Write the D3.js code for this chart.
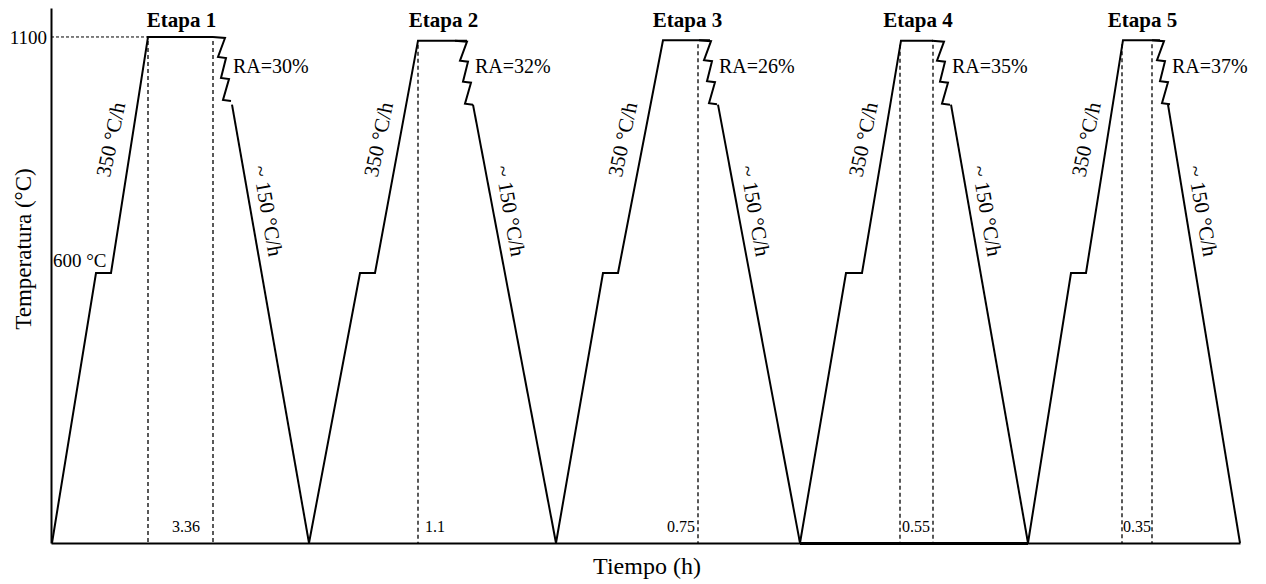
<!DOCTYPE html>
<html><head><meta charset="utf-8">
<script src="https://cdn.jsdelivr.net/npm/d3@7"></script>
<style>
body{margin:0;background:#fff}
svg{display:block}
text{font-family:"Liberation Serif","Times New Roman",serif;fill:#000}
</style>
</head><body><svg id="c" width="1266" height="584"></svg>
<script>
// ---- data (schematic time units, temperature °C) ----
const stages = ['Etapa 1','Etapa 2','Etapa 3','Etapa 4','Etapa 5'];
const reductions = ['RA=30%','RA=32%','RA=26%','RA=35%','RA=37%'];
const durations = ['3.36','1.1','0.75','0.55','0.35'];
const durationPos = [13.5, 37.4, 64.4, 86.5, 108.6];
const durationAnchor = ['middle','start','end','middle','middle'];
const cycleStart = [0.1, 25.8, 50.5, 74.9, 97.7];
const holdStart  = [4.5, 30.9, 55.2, 79.5, 102.0];
const holdEnd    = [6.0, 32.4, 56.7, 81.1, 103.5];
const topStart   = [9.7, 36.7, 61.2, 85.0, 107.2];
const topEnd     = [16.2, 41.6, 65.9, 88.2, 110.9];
const breakAt    = [16.2, 40.4, 64.8, 88.1, 110.1];
const coolStart  = [18.1, 42.2, 66.7, 90.0, 111.7];
const cycleEnd   = [25.8, 50.5, 74.9, 97.7, 118.9];
const topTemp    = [1100, 1092, 1093, 1092, 1093];
const holdTemp = 587;
const coolStartTemp = 953;
const markerTimes = [[9.7,16.2],[36.7],[64.7],[84.9,88.2],[107.1,110.1]];
const yTicks = [1100];
const heatLabel = '350 °C/h';
const coolLabel = '~ 150 °C/h';
const holdLabel = '600 °C';

// ---- chart ----
const svg = d3.select('#c');
const x = d3.scaleLinear().domain([0, 118.9]).range([51, 1240]);
const y = d3.scaleLinear().domain([0, 1163]).range([543, 8]);

// zig-zag "break" symbol template (pixel offsets)
const zig = [[0,0],[12,1],[5,20],[13,21],[8,41],[16,42],[10,63],[18,64]];

// dotted 1100 reference
svg.append('line')
  .attr('x1', x(0)).attr('x2', x(topStart[0]))
  .attr('y1', y(1100)).attr('y2', y(1100))
  .attr('stroke', '#000').attr('stroke-width', 1).attr('stroke-dasharray', '3,2');

// dashed vertical markers
markerTimes.forEach((ts, i) => {
  ts.forEach(t => {
    svg.append('line')
      .attr('x1', x(t)).attr('x2', x(t))
      .attr('y1', y(topTemp[i]) + 4).attr('y2', y(0))
      .attr('stroke', '#000').attr('stroke-width', 1.3).attr('stroke-dasharray', '4,3');
  });
});

const line = d3.line().x(d => x(d[0])).y(d => y(d[1]));

stages.forEach((s, i) => {
  const heat = [[cycleStart[i], 0], [holdStart[i], holdTemp], [holdEnd[i], holdTemp],
                [topStart[i], topTemp[i]], [topEnd[i], topTemp[i]]];
  svg.append('path').attr('d', line(heat))
    .attr('fill', 'none').attr('stroke', '#000').attr('stroke-width', 2).attr('stroke-linejoin', 'miter');
  const ax = x(breakAt[i]), ay = y(topTemp[i]);
  svg.append('path')
    .attr('d', d3.line()(zig.map(p => [ax + p[0], ay + p[1]])))
    .attr('fill', 'none').attr('stroke', '#000').attr('stroke-width', 2);
  svg.append('path').attr('d', line([[coolStart[i], coolStartTemp], [cycleEnd[i], 0]]))
    .attr('fill', 'none').attr('stroke', '#000').attr('stroke-width', 2);

  // stage title
  svg.append('text').attr('x', (x(topStart[i]) + x(topEnd[i])) / 2 + 1).attr('y', 27)
    .attr('text-anchor', 'middle').attr('font-size', 21).attr('font-weight', 'bold').text(s);
  // reduction
  svg.append('text').attr('x', ax + 20).attr('y', 73)
    .attr('font-size', 20).text(reductions[i]);
  // duration
  svg.append('text').attr('x', x(durationPos[i])).attr('y', 532)
    .attr('text-anchor', durationAnchor[i]).attr('font-size', 16).text(durations[i]);

  // heating rate along upper ramp
  const ty = y.invert(141);
  const fr = (ty - holdTemp) / (topTemp[i] - holdTemp);
  const rx = x(holdEnd[i] + fr * (topStart[i] - holdEnd[i]));
  svg.append('text').attr('transform', `translate(${rx - 14},141) rotate(-78)`)
    .attr('text-anchor', 'middle').attr('font-size', 21).text(heatLabel);

  // cooling rate along descent
  const cy = 212;
  const cf = (cy - y(coolStartTemp)) / (y(0) - y(coolStartTemp));
  const cx = x(coolStart[i] + cf * (cycleEnd[i] - coolStart[i]));
  svg.append('text').attr('transform', `translate(${cx + 10},${cy}) rotate(80)`)
    .attr('text-anchor', 'middle').attr('font-size', 21).text(coolLabel);
});

// 600 °C label
svg.append('text').attr('x', 53).attr('y', 267).attr('font-size', 19).text(holdLabel);

// axes
const yAxis = svg.append('g').attr('transform', `translate(${x(0)},0)`)
  .call(d3.axisLeft(y).tickValues(yTicks).tickFormat(d3.format('d')).tickSize(0).tickSizeOuter(0).tickPadding(4));
yAxis.select('.domain').attr('stroke', '#000').attr('stroke-width', 2);
yAxis.selectAll('text').attr('font-size', 19).attr('font-family', '"Liberation Serif","Times New Roman",serif');

const xAxis = svg.append('g').attr('transform', `translate(0,${y(0)})`)
  .call(d3.axisBottom(x).tickValues([]).tickSizeOuter(0));
xAxis.select('.domain').attr('stroke', '#000').attr('stroke-width', 2);
// heavier baseline under stage 4 (as in the original drawing)
svg.append('line').attr('x1', x(cycleStart[3])).attr('x2', x(cycleEnd[3]))
  .attr('y1', y(0) + 0.5).attr('y2', y(0) + 0.5).attr('stroke', '#000').attr('stroke-width', 3);

// axis titles
svg.append('text').attr('transform', 'translate(31,249) rotate(-90)')
  .attr('text-anchor', 'middle').attr('font-size', 23).text('Temperatura (°C)');
svg.append('text').attr('x', 647).attr('y', 574)
  .attr('text-anchor', 'middle').attr('font-size', 24).text('Tiempo (h)');
</script>
</body></html>
